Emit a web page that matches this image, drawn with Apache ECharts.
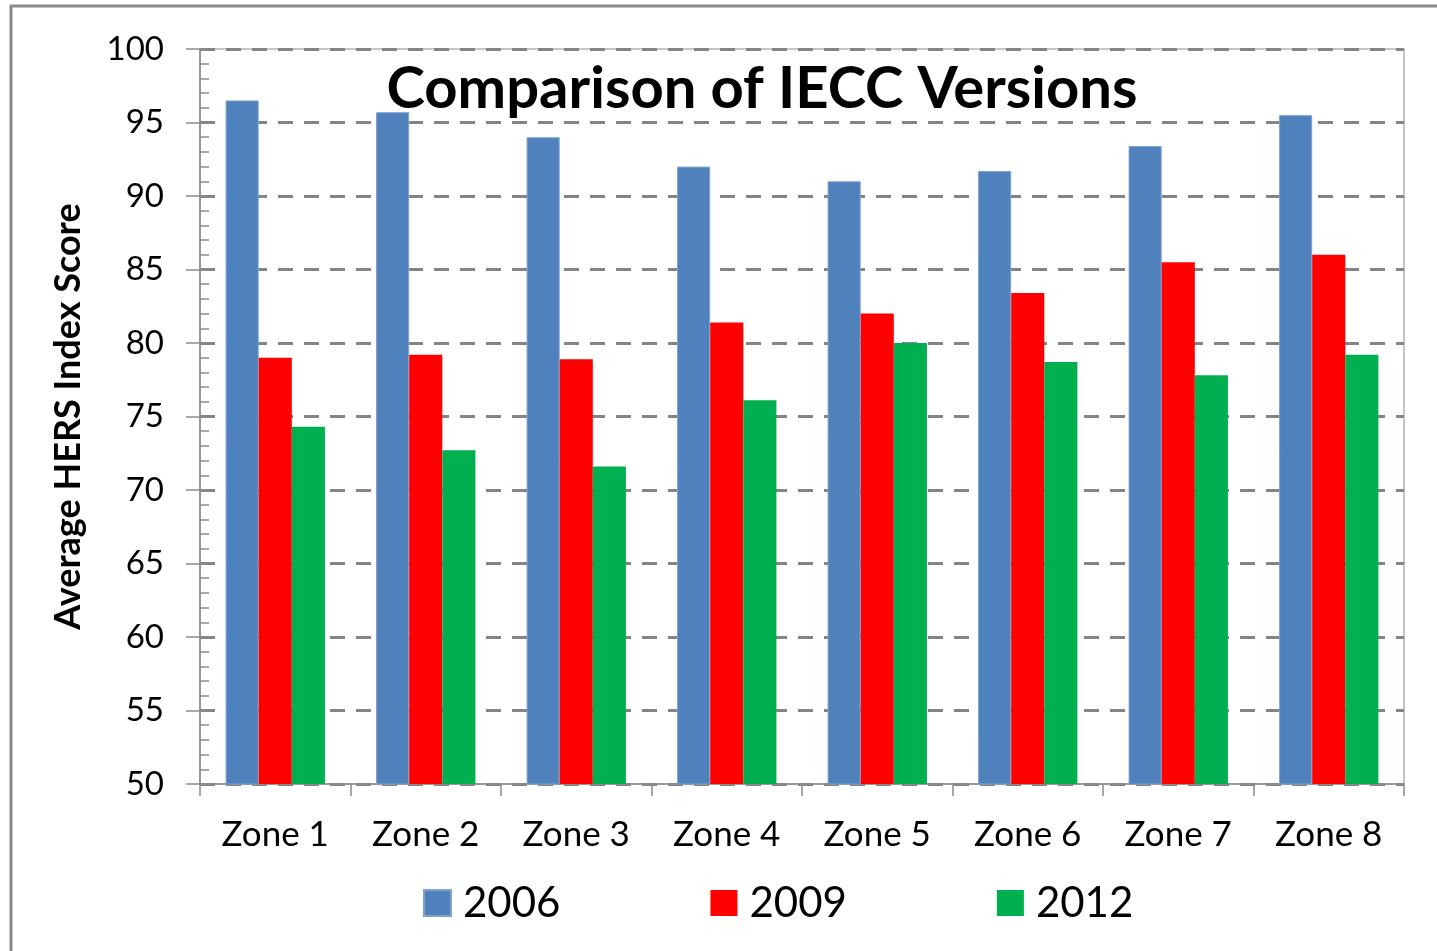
<!DOCTYPE html>
<html>
<head>
<meta charset="utf-8">
<script src="https://cdn.jsdelivr.net/npm/echarts@6/dist/echarts.min.js"></script>
<style>
  html, body { margin: 0; padding: 0; background: #fff; }
  #chart { width: 1437px; height: 951px; }
</style>
</head>
<body>
<div id="chart"></div>
<script>
// 数据
const zones = ['Zone 1', 'Zone 2', 'Zone 3', 'Zone 4', 'Zone 5', 'Zone 6', 'Zone 7', 'Zone 8']
const v2006 = [96.5, 95.7, 94.0, 92.0, 91.0, 91.7, 93.4, 95.5]
const v2009 = [79.0, 79.2, 78.9, 81.4, 82.0, 83.4, 85.5, 86.0]
const v2012 = [74.3, 72.7, 71.6, 76.1, 80.0, 78.7, 77.8, 79.2]
const yMin = 50
const yMax = 100

const font = 'Lato, "Open Sans", sans-serif'
const gray = '#8a8a8a'

const chart = echarts.init(document.getElementById('chart'))

const option = {
  backgroundColor: '#fff',
  animation: false,
  title: {
    text: 'Comparison of IECC Versions',
    left: 757,
    top: 55,
    textAlign: 'center',
    textStyle: { fontFamily: font, fontSize: 58, fontWeight: 'bold', color: '#000' }
  },
  legend: {
    data: ['2006', '2009', '2012'],
    left: 423,
    top: 882,
    padding: 0,
    itemWidth: 27,
    itemHeight: 26,
    itemGap: 150,
    icon: 'rect',
    textStyle: { fontFamily: font, fontSize: 42, color: '#000', padding: [0, 0, 0, 7] }
  },
  graphic: [
    {
      type: 'rect',
      shape: { x: 11, y: 6, width: 1440, height: 960 },
      style: { fill: 'none', stroke: gray, lineWidth: 3 },
      silent: true
    }
  ],
  grid: {
    left: 200,
    right: 33,
    top: 49,
    bottom: 167,
    show: true,
    borderColor: gray,
    borderWidth: 1,
    containLabel: false
  },
  xAxis: {
    type: 'category',
    data: zones,
    axisLine: { lineStyle: { color: gray, width: 1.5 } },
    axisTick: { show: true, alignWithLabel: false, length: 12, lineStyle: { color: gray, width: 1.5 } },
    axisLabel: { fontFamily: font, fontSize: 35, color: '#000', margin: 33 }
  },
  yAxis: [
    {
      type: 'value',
      min: yMin,
      max: yMax,
      interval: 5,
      name: 'Average HERS Index Score',
      nameLocation: 'middle',
      nameGap: 114,
      nameTextStyle: { fontFamily: font, fontSize: 36, fontWeight: 'bold', color: '#000' },
      axisLine: { show: true, lineStyle: { color: gray, width: 1.5 } },
      axisTick: { show: true, length: 14, lineStyle: { color: gray, width: 1.5 } },
      axisLabel: { fontFamily: font, fontSize: 33, color: '#000', margin: 36 },
      splitLine: { show: true, lineStyle: { color: '#848484', width: 3, type: [15, 11] } }
    },
    {
      // 内侧小刻度
      type: 'value',
      min: yMin,
      max: yMax,
      interval: 1,
      position: 'left',
      axisLine: { show: false },
      axisTick: { show: true, inside: true, length: 9, lineStyle: { color: gray, width: 1.5 } },
      axisLabel: { show: false },
      splitLine: { show: false }
    }
  ],
  series: [
    {
      name: '2006',
      type: 'bar',
      data: v2006,
      barWidth: '22%',
      barGap: '0%',
      itemStyle: { color: '#4F81BD', borderColor: '#7FA2CF', borderWidth: 1 }
    },
    {
      name: '2009',
      type: 'bar',
      data: v2009,
      barWidth: '22%',
      barGap: '0%',
      itemStyle: { color: '#FF0000' }
    },
    {
      name: '2012',
      type: 'bar',
      data: v2012,
      barWidth: '22%',
      barGap: '0%',
      itemStyle: { color: '#00B050' }
    }
  ]
}

chart.setOption(option)
</script>
</body>
</html>
